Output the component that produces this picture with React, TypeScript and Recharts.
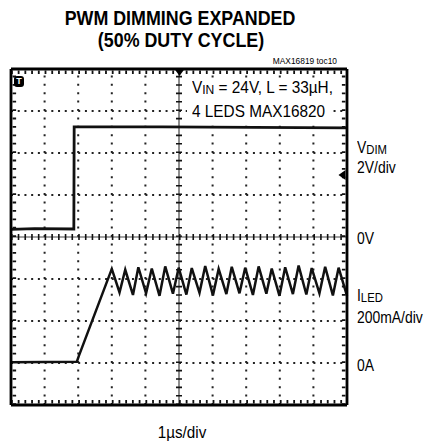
import { LineChart, Line, XAxis, YAxis } from 'recharts';

const F = '"Liberation Sans", Arial, Helvetica, sans-serif';

// scope screen: 10 horizontal divisions (1us/div), 8 vertical divisions
const gridX = [1, 2, 3, 4, 6, 7, 8, 9];
const gridY = [1, 2, 3, 5, 6, 7];

// V_DIM trace (divisions from bottom of screen)
const vdimTime = [0, 0.7, 1.87, 1.88, 4.5, 10];
const vdimLevel = [4.18, 4.2, 4.19, 6.62, 6.62, 6.6];

// I_LED trace: flat, then ramp up, then ripple
const iledRiseTime = [0, 1.96, 2.02];
const iledRiseLevel = [1.02, 1.03, 1.17];
const peakTime = [3.0, 3.4, 3.79, 4.19, 4.59, 4.99, 5.38, 5.78, 6.18, 6.57, 6.97, 7.37, 7.76, 8.16, 8.56, 8.95, 9.35, 9.75];
const peakLevel = [3.24, 3.22, 3.28, 3.25, 3.3, 3.27, 3.26, 3.31, 3.24, 3.29, 3.27, 3.3, 3.25, 3.28, 3.32, 3.26, 3.29, 3.27];
const troughTime = [3.23, 3.63, 4.02, 4.42, 4.82, 5.22, 5.61, 6.01, 6.41, 6.8, 7.2, 7.6, 7.99, 8.39, 8.79, 9.18, 9.58, 10.0];
const troughLevel = [2.68, 2.62, 2.66, 2.6, 2.65, 2.63, 2.67, 2.61, 2.64, 2.66, 2.62, 2.65, 2.6, 2.64, 2.63, 2.66, 2.61, 2.6];

const vdimData = vdimTime.map((t, i) => ({ t, v: vdimLevel[i] }));
const iledData = [
  ...iledRiseTime.map((t, i) => ({ t, v: iledRiseLevel[i] })),
  ...peakTime.flatMap((t, i) => [
    { t, v: peakLevel[i] },
    { t: troughTime[i], v: troughLevel[i] },
  ]),
];

const vSeg = (x: number) => [{ t: x, v: 0 }, { t: x, v: 8 }];
const hSeg = (y: number) => [{ t: 0, v: y }, { t: 10, v: y }];

// straight segment helper -> graticule, tick rows, frame
const seg = (key: string, data: any[], width: number, dash: string | undefined, stroke = '#222') => (
  <Line
    key={key}
    data={data}
    dataKey="v"
    type="linear"
    stroke={stroke}
    strokeWidth={width}
    strokeDasharray={dash}
    dot={false}
    activeDot={false}
    isAnimationActive={false}
  />
);

const Txt = ({ left, top, size, scale = 0.87, width, align = 'left', bold, children }: any) => (
  <div
    style={{
      position: 'absolute',
      left,
      top,
      width,
      fontFamily: F,
      fontSize: size,
      lineHeight: `${size}px`,
      fontWeight: bold ? 700 : 400,
      textAlign: align,
      whiteSpace: 'nowrap',
      transform: `scaleX(${scale})`,
      transformOrigin: align === 'center' ? 'center' : align === 'right' ? 'right' : 'left',
      color: '#000',
    }}
  >
    {children}
  </div>
);

const Sub = ({ children }: any) => (
  <span style={{ fontSize: 13, position: 'relative', top: 1 }}>{children}</span>
);

export default function App() {
  return (
    <div style={{ position: 'absolute', left: 0, top: 0, width: 428, height: 446, background: '#fff' }}>
      <LineChart width={428} height={446} margin={{ top: 69, right: 81, bottom: 41, left: 11 }}>
        <XAxis type="number" dataKey="t" domain={[0, 10]} hide />
        <YAxis type="number" domain={[0, 8]} hide />
        {gridX.map((x) => seg('gx' + x, vSeg(x), 2, '2 6.4'))}
        {gridY.map((y) => seg('gy' + y, hSeg(y), 2, '2 4.72'))}
        {/* centre axes with minor ticks */}
        {seg('cx', vSeg(5), 1.2, undefined, '#444')}
        {seg('cxt', vSeg(5), 6, '1.6 6.8', '#111')}
        {seg('cy', hSeg(4), 1.2, undefined, '#444')}
        {seg('cyt', hSeg(4), 6, '1.6 5.12', '#111')}
        {/* minor ticks along the frame */}
        {seg('et', hSeg(7.92), 3.5, '1.8 4.92', '#111')}
        {seg('eb', hSeg(0.08), 3.5, '1.8 4.92', '#111')}
        {seg('el', vSeg(0.1), 3.5, '1.8 6.6', '#111')}
        {seg('er', vSeg(9.9), 3.5, '1.8 6.6', '#111')}
        <Line data={vdimData} dataKey="v" type="linear" stroke="#111" strokeWidth={2.8} dot={false} activeDot={false} isAnimationActive={false} />
        <Line data={iledData} dataKey="v" type="linear" stroke="#111" strokeWidth={2.5} dot={false} activeDot={false} isAnimationActive={false} />
        {/* frame */}
        {seg('fl', vSeg(0), 2.8, undefined, '#000')}
        {seg('fr', vSeg(10), 2.8, undefined, '#000')}
        {seg('fb', hSeg(0), 2.8, undefined, '#000')}
        {seg('ft', hSeg(8), 2.8, undefined, '#000')}
      </LineChart>

      {/* trigger position and channel offset markers */}
      <svg style={{ position: 'absolute', left: 0, top: 0 }} width={428} height={446}>
        <path d="M174.5,69 L184.5,69 L179.5,76 Z" fill="#000" />
        <path d="M345.5,170 L345.5,180 L338.5,175 Z" fill="#000" />
      </svg>

      <Txt left={0} top={7.2} width={360} size={21} scale={0.85} align="center" bold>PWM DIMMING EXPANDED</Txt>
      <Txt left={0} top={28.7} width={362} size={21} scale={0.85} align="center" bold>(50% DUTY CYCLE)</Txt>
      <Txt left={237} top={57.4} width={100} size={9} scale={0.93} align="right">MAX16819 toc10</Txt>

      <div style={{ position: 'absolute', left: 187, top: 78, width: 145, height: 43, background: '#fff' }} />
      <Txt left={192} top={79.3} size={16.5} scale={0.93}>V<Sub>IN</Sub> = 24V, L = 33µH,</Txt>
      <Txt left={191.5} top={103.3} size={16.5} scale={0.93}>4 LEDS MAX16820</Txt>

      <div
        style={{
          position: 'absolute', left: 14, top: 76, width: 10, height: 11, background: '#000', borderRadius: 3,
          color: '#fff', fontFamily: F, fontSize: 9, fontWeight: 700, lineHeight: '11px', textAlign: 'center',
        }}
      >
        T
      </div>

      <Txt left={356.7} top={139.8} size={16}>V<Sub>DIM</Sub></Txt>
      <Txt left={356.7} top={159.8} size={16}>2V/div</Txt>
      <Txt left={356.7} top={230.8} size={16}>0V</Txt>
      <Txt left={356.7} top={288.2} size={16}>I<Sub>LED</Sub></Txt>
      <Txt left={356.7} top={309.8} size={16}>200mA/div</Txt>
      <Txt left={356.7} top={358.2} size={16}>0A</Txt>
      <Txt left={132} top={424.8} width={100} size={16} scale={0.95} align="center">1µs/div</Txt>
    </div>
  );
}
